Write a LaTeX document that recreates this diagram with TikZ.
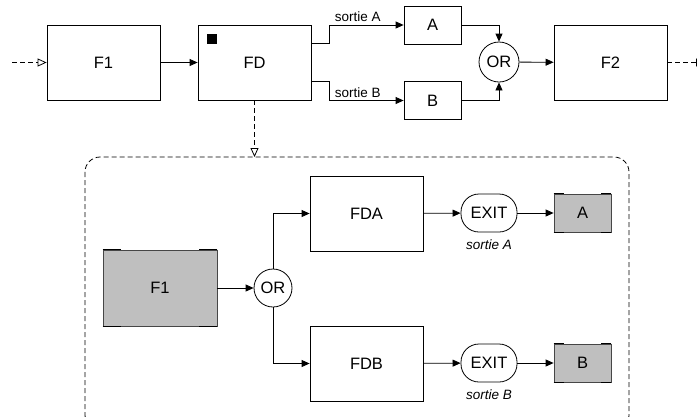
\documentclass[tikz,border=0pt]{standalone}
\usepackage{fontspec}
\setmainfont{Liberation Sans}
\usetikzlibrary{arrows.meta,calc}
\begin{document}
\begin{tikzpicture}[x=1pt,y=-1pt,
  every node/.style={font=\fontsize{16.5}{19}\selectfont},
  box/.style={draw,line width=0.8pt,minimum width=113pt,minimum height=75pt,inner sep=0pt},
  smallbox/.style={draw,line width=0.8pt,minimum width=57pt,minimum height=38pt,inner sep=0pt},
  greybox/.style={draw=gray!55!black,fill=gray!50,line width=0.8pt,inner sep=0pt},
  orc/.style={draw,circle,line width=0.8pt,minimum size=40pt,inner sep=0pt},
  exitbox/.style={draw,rounded corners=18pt,line width=0.8pt,minimum width=56pt,minimum height=38pt,inner sep=0pt},
  lbl/.style={font=\fontsize{13.5}{15}\selectfont,inner sep=0pt},
  ilbl/.style={font=\fontsize{13.5}{15}\selectfont\itshape},
  arr/.style={line width=0.8pt,-{Triangle[length=8pt,width=7pt]}},
  darr/.style={line width=0.8pt,dash pattern=on 5pt off 3pt,-{Triangle[open,length=9pt,width=8pt,fill=white]}},
  tick/.style={line width=1.2pt,black}]
\useasboundingbox (0,0) rectangle (697,416);
\clip (0,0) rectangle (697,416);
% top row
\node[box] (f1) at (103.5,62.5) {F1};
\node[box] (fd) at (254.5,62.5) {FD};
\node[smallbox] (a) at (432.5,25) {A};
\node[smallbox] (b) at (432.5,100.5) {B};
\node[orc] (or1) at (499,62) {OR};
\node[box] (f2) at (610.5,62.5) {F2};
\fill ($(fd.north west)+(9,9)$) rectangle ++(10,10);
\coordinate (in) at (12,62.5);
\coordinate (out) at (705,62.5);
\draw[darr] (in) -- (f1.west);
\draw[darr] (f2.east) -- (out);
\draw[arr] (f1) -- (fd);
\draw[arr] ($(fd.north east)!0.25!(fd.south east)$) -- ++(18,0) |- (a.west)
  node[lbl,pos=0.5,anchor=south west,xshift=5pt,yshift=2.5pt] {sortie A};
\draw[arr] ($(fd.north east)!0.75!(fd.south east)$) -- ++(18,0) |- (b.west)
  node[lbl,pos=0.5,anchor=south west,xshift=5pt,yshift=2.5pt] {sortie B};
\draw[arr] (a.east) -| (or1.north);
\draw[arr] (b.east) -| (or1.south);
\draw[arr] (or1) -- (f2);
% expansion frame
\draw[line width=0.8pt,dash pattern=on 5pt off 3pt,rounded corners=15pt] (85,157) rectangle (629,430);
\coordinate (ftop) at (254.5,157);
\draw[darr] (fd.south) -- (ftop);
% inner
\node[greybox,minimum width=114pt,minimum height=76pt] (g1) at (160,288) {F1};
\node[orc,minimum size=38pt] (or2) at (273,288) {OR};
\node[box] (fda) at (366.5,213.5) {FDA};
\node[box] (fdb) at (366.5,363.5) {FDB};
\node[exitbox] (exa) at (489,213) {EXIT};
\node[exitbox] (exb) at (489,363) {EXIT};
\node[greybox,minimum width=57pt,minimum height=38pt] (ga) at (582.5,213) {A};
\node[greybox,minimum width=57pt,minimum height=38pt] (gb) at (582.5,363) {B};
\node[ilbl] (la) at (489,245) {sortie A};
\node[ilbl] (lb) at (489,395) {sortie B};
% corner ticks
\foreach \n/\l in {g1/18,ga/10,gb/10}{
  \draw[tick] (\n.north west) -- ++(\l,0);
  \draw[tick] (\n.north east) -- ++(-\l,0);
  \draw[tick] (\n.south west) -- ++(\l,0);
  \draw[tick] (\n.south east) -- ++(-\l,0);
}
\draw[arr] (g1) -- (or2);
\draw[arr] (or2.north) |- (fda.west);
\draw[arr] (or2.south) |- (fdb.west);
\draw[arr] (fda) -- (exa);
\draw[arr] (fdb) -- (exb);
\draw[arr] (exa) -- (ga);
\draw[arr] (exb) -- (gb);
\end{tikzpicture}
\end{document}
